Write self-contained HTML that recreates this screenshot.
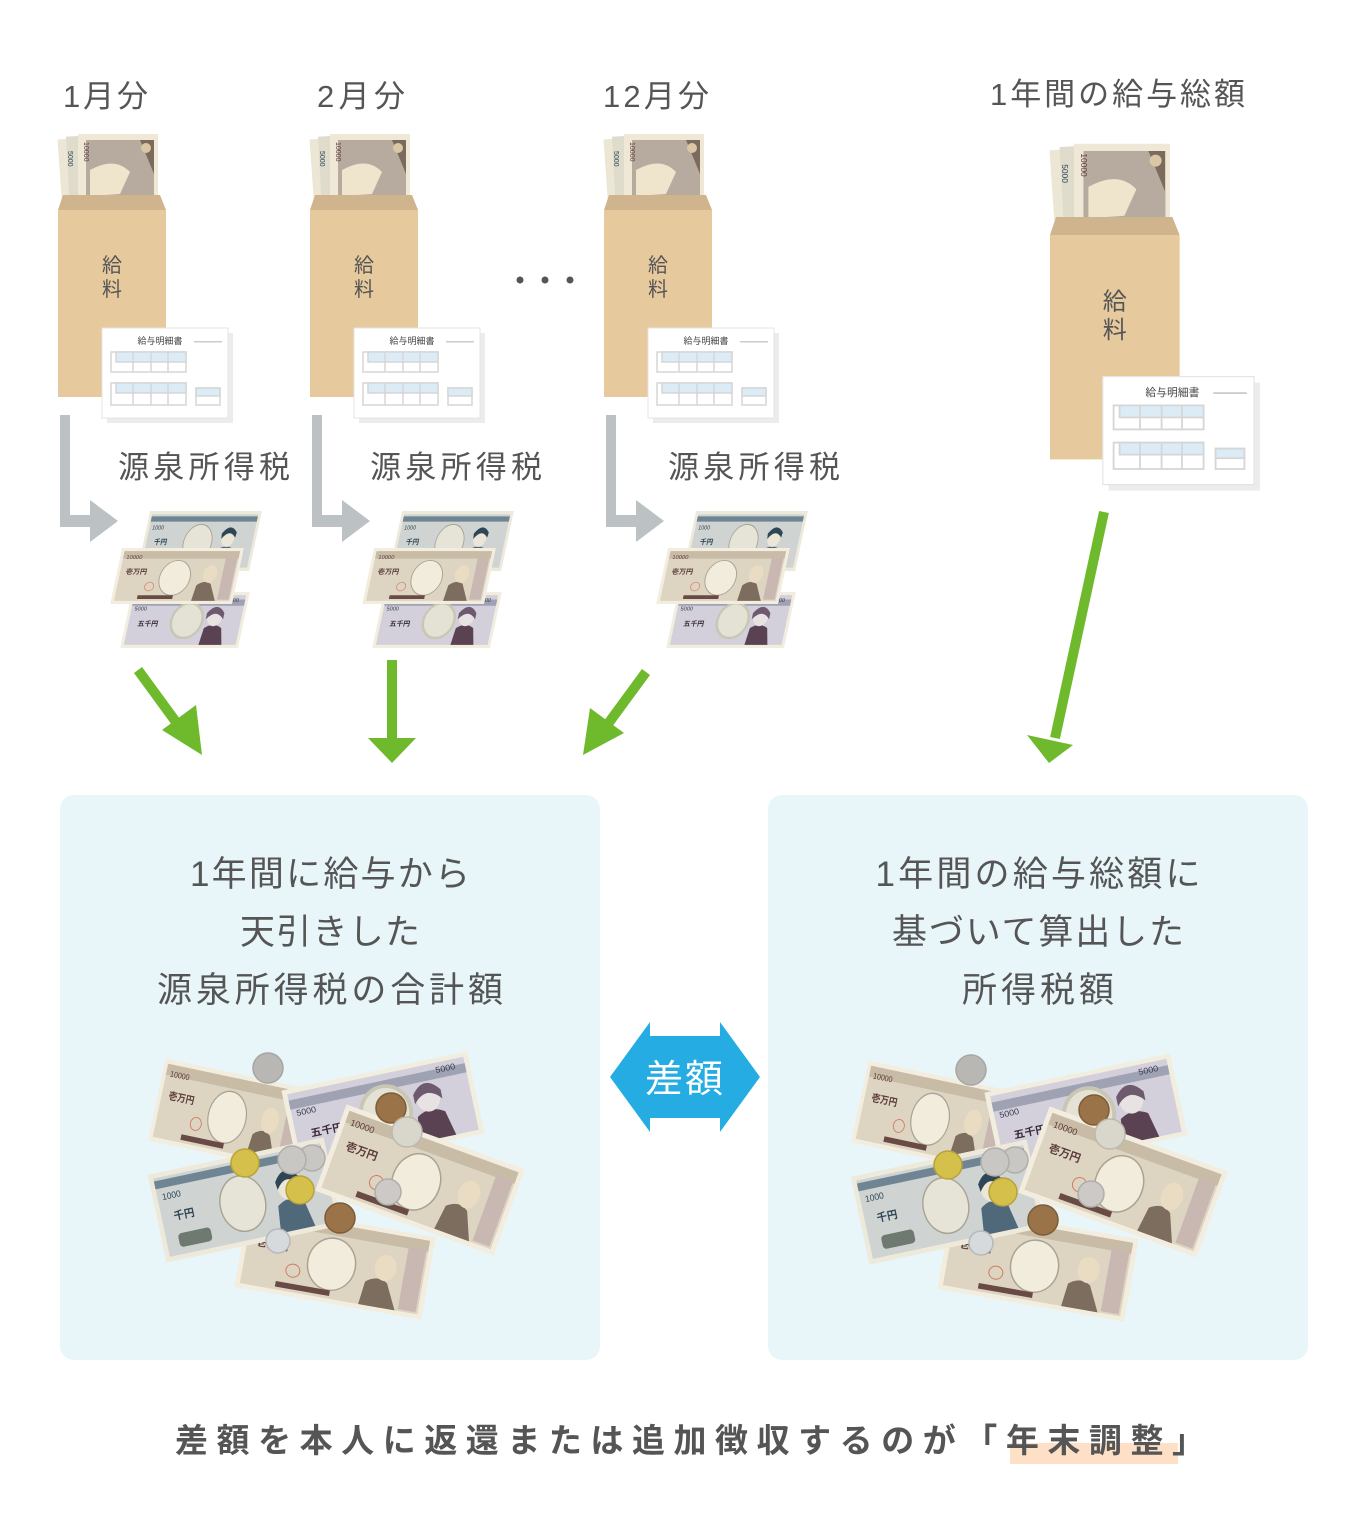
<!DOCTYPE html>
<html><head><meta charset="utf-8"><style>
html,body{margin:0;padding:0;background:#fff;}
svg{display:block;}
text{font-family:"Liberation Sans","Noto Sans CJK JP",sans-serif;}
</style></head><body>
<svg width="1368" height="1536" viewBox="0 0 1368 1536" xmlns="http://www.w3.org/2000/svg">
<defs>
  <symbol id="n10k" viewBox="0 0 190 90" preserveAspectRatio="none">
    <rect x="0" y="0" width="190" height="90" fill="#f3ede0"/>
    <rect x="5" y="5" width="180" height="80" fill="#ddd5c2"/>
    <rect x="5" y="5" width="180" height="12" fill="#c9bca6"/>
    <ellipse cx="92" cy="48" rx="24" ry="28" fill="#f2ecdc" stroke="#aaa394" stroke-width="1.5"/>
    <path d="M125 85 L128 60 Q140 50 150 58 L162 85 Z" fill="#7d6d5e"/>
    <ellipse cx="146" cy="42" rx="11" ry="14" fill="#eadcc2"/>
    <rect x="165" y="15" width="18" height="68" fill="#c9b8b2"/>
    <text x="10" y="18" font-size="9" fill="#5b3a3a" font-family="Liberation Serif,serif">10000</text>
    <text x="14" y="42" font-size="11" font-weight="bold" fill="#5b3a3a">壱万円</text>
    <circle cx="55" cy="62" r="7" fill="none" stroke="#d07a62" stroke-width="1"/>
    <rect x="40" y="76" width="55" height="6" fill="#6a4a44"/>
  </symbol>
  <symbol id="n5k" viewBox="0 0 190 90" preserveAspectRatio="none">
    <rect x="0" y="0" width="190" height="90" fill="#f2eedf"/>
    <rect x="5" y="5" width="180" height="80" fill="#d3d0dc"/>
    <rect x="5" y="12" width="180" height="10" fill="#9ea2b3"/>
    <ellipse cx="98" cy="46" rx="25" ry="28" fill="#e4e2d4" stroke="#c9c7b4" stroke-width="4"/>
    <path d="M125 85 L128 58 Q142 48 156 58 L162 85 Z" fill="#5a4252"/>
    <ellipse cx="142" cy="40" rx="12" ry="15" fill="#e8e2e2"/>
    <path d="M128 34 Q142 14 156 34 L156 44 Q142 26 128 44 Z" fill="#6e5a6e"/>
    <text x="10" y="30" font-size="9" fill="#3a3a4a" font-family="Liberation Serif,serif">5000</text>
    <text x="155" y="16" font-size="9" fill="#3a3a4a" font-family="Liberation Serif,serif">5000</text>
    <text x="20" y="55" font-size="11" font-weight="bold" fill="#3a2a3a">五千円</text>
  </symbol>
  <symbol id="n1k" viewBox="0 0 190 90" preserveAspectRatio="none">
    <rect x="0" y="0" width="190" height="90" fill="#eeeadb"/>
    <rect x="5" y="5" width="180" height="80" fill="#cfd3d2"/>
    <rect x="5" y="8" width="180" height="8" fill="#6f8594"/>
    <ellipse cx="92" cy="48" rx="24" ry="28" fill="#e6e4d6" stroke="#aaa394" stroke-width="1.5"/>
    <path d="M125 85 L128 58 Q142 48 156 58 L162 85 Z" fill="#50697a"/>
    <ellipse cx="142" cy="40" rx="11" ry="14" fill="#ece6d8"/>
    <path d="M130 34 Q142 16 155 32 L154 40 Q142 26 131 42 Z" fill="#2e4656"/>
    <text x="10" y="28" font-size="9" fill="#2e4656" font-family="Liberation Serif,serif">1000</text>
    <text x="18" y="50" font-size="11" font-weight="bold" fill="#2e4656">千円</text>
    <rect x="18" y="64" width="35" height="14" rx="4" fill="#6e7a70"/>
  </symbol>
  <symbol id="env" overflow="visible">
    <g transform="translate(2,-76)">
      <rect x="0" y="4" width="40" height="72" fill="#ece6d4" transform="rotate(-4 20 40)"/>
      <rect x="8" y="2" width="40" height="72" fill="#e0dccc" transform="rotate(-3 20 40)"/>
      <rect x="18" y="0" width="80" height="72" fill="#efe8d6"/>
      <rect x="26" y="6" width="68" height="64" fill="#7c6a5c"/>
      <path d="M26 6 L80 6 L94 40 L94 70 L26 70 Z" fill="#b7aba0"/>
      <path d="M30 36 Q55 22 70 38 L60 60 L30 62 Z" fill="#efe4cc"/>
      <text x="5" y="20" font-size="7" fill="#2e4656" transform="rotate(90 8 20)">5000</text>
      <text x="18" y="10" font-size="7" fill="#5b3a3a" transform="rotate(90 22 12)">10000</text>
      <circle cx="86" cy="14" r="5" fill="#d9c7a6"/>
    </g>
    <path d="M5 -15 L102 -15 L108 0 L0 0 Z" fill="#cfb48d"/>
    <rect x="0" y="0" width="108" height="187" fill="#e6c99c"/>
    <text x="54" y="62" font-size="20" fill="#555" text-anchor="middle">給</text>
    <text x="54" y="86" font-size="20" fill="#555" text-anchor="middle">料</text>
    <rect x="49" y="123" width="126" height="90" fill="#ececec"/>
    <rect x="44" y="118" width="126" height="90" fill="#fff" stroke="#e4e4e4"/>
    <text x="102" y="134" font-size="9" fill="#444" text-anchor="middle">給与明細書</text>
    <rect x="136" y="131" width="28" height="1.5" fill="#ccc"/>
    <g fill="#dcecf7" stroke="#d6d6d6" stroke-width="1.5">
      <rect x="53" y="142" width="75" height="20" fill="#fff"/>
      <rect x="58" y="142" width="70" height="10"/>
      <rect x="53" y="173" width="75" height="22" fill="#fff"/>
      <rect x="58" y="173" width="70" height="10"/>
      <rect x="138" y="178" width="24" height="17" fill="#fff"/>
      <rect x="138" y="178" width="24" height="8"/>
    </g>
    <g stroke="#d6d6d6" stroke-width="1.5">
      <path d="M75 142V162M93 142V162M110 142V162M75 173V195M93 173V195M110 173V195"/>
    </g>
  </symbol>
  <symbol id="tax" overflow="visible">
    <use href="#n1k" x="0" y="0" width="112" height="60" transform="translate(40,1) skewX(-12)"/>
    <use href="#n5k" x="0" y="0" width="118" height="56" transform="translate(22,82) skewX(-12)"/>
    <use href="#n10k" x="0" y="0" width="122" height="56" transform="translate(12,38) skewX(-12)"/>
  </symbol>
  <symbol id="pile" overflow="visible">
    <use href="#n10k" x="-75" y="-42" width="150" height="84" transform="translate(230,1115) rotate(12)"/>
    <use href="#n5k" x="-95" y="-42" width="190" height="84" transform="translate(383,1112) rotate(-12)"/>
    <use href="#n10k" x="-95" y="-42" width="190" height="84" transform="translate(335,1262) rotate(10)"/>
    <use href="#n1k" x="-90" y="-45" width="180" height="90" transform="translate(245,1200) rotate(-12)"/>
    <use href="#n10k" x="-95" y="-46" width="190" height="92" transform="translate(420,1180) rotate(20)"/>
    <g stroke-width="1.5">
      <circle cx="268" cy="1068" r="15" fill="#b9b7b4" stroke="#a8a6a2"/>
      <circle cx="312" cy="1158" r="13" fill="#c9c7c4" stroke="#b0aeaa"/>
      <circle cx="292" cy="1160" r="14" fill="#c9c7c4" stroke="#b0aeaa"/>
      <circle cx="245" cy="1163" r="14" fill="#d4c04a" stroke="#b8a23a"/>
      <circle cx="300" cy="1190" r="14" fill="#d4c04a" stroke="#b8a23a"/>
      <circle cx="391" cy="1108" r="15" fill="#9a7448" stroke="#7e5c36"/>
      <circle cx="407" cy="1132" r="15" fill="#d9d6cc" stroke="#bdb9ae"/>
      <circle cx="388" cy="1192" r="13" fill="#ccc9c6" stroke="#b0aeaa"/>
      <circle cx="340" cy="1218" r="15" fill="#9a7448" stroke="#7e5c36"/>
      <circle cx="278" cy="1241" r="12" fill="#d6dadc" stroke="#b5b9bb"/>
    </g>
  </symbol>
</defs>

<g font-size="31" fill="#555">
  <text x="63" y="107" textLength="85" lengthAdjust="spacing">1月分</text>
  <text x="317" y="107" textLength="88" lengthAdjust="spacing">2月分</text>
  <text x="603" y="107" textLength="106" lengthAdjust="spacing">12月分</text>
  <text x="990" y="105" textLength="255" lengthAdjust="spacing">1年間の給与総額</text>
</g>

<use href="#env" transform="translate(58,210)"/>
<use href="#env" transform="translate(310,210)"/>
<use href="#env" transform="translate(604,210)"/>
<use href="#env" transform="translate(1050,235) scale(1.2)"/>

<g fill="#555"><circle cx="520" cy="280" r="3.5"/><circle cx="545" cy="280" r="3.5"/><circle cx="570" cy="280" r="3.5"/></g>

<g fill="#bcc1c4">
  <path d="M60 415 H70 V515 H90 V500 L118 521 L90 542 V527 H60 Z"/>
  <path d="M312 415 H322 V515 H342 V500 L370 521 L342 542 V527 H312 Z"/>
  <path d="M606 415 H616 V515 H636 V500 L664 521 L636 542 V527 H606 Z"/>
</g>
<g font-size="31" fill="#555">
  <text x="118" y="478" textLength="172" lengthAdjust="spacing">源泉所得税</text>
  <text x="370" y="478" textLength="172" lengthAdjust="spacing">源泉所得税</text>
  <text x="668" y="478" textLength="172" lengthAdjust="spacing">源泉所得税</text>
</g>

<use href="#tax" transform="translate(110,510)"/>
<use href="#tax" transform="translate(362,510)"/>
<use href="#tax" transform="translate(656,510)"/>

<g stroke="#6fba2c" stroke-width="10" fill="none">
  <line x1="138" y1="670" x2="184" y2="733"/>
  <line x1="392" y1="660" x2="392" y2="740"/>
  <line x1="646" y1="672" x2="602" y2="732"/>
  <line x1="1104" y1="512" x2="1055" y2="738"/>
</g>
<g fill="#6fba2c">
  <path d="M202 755 L162 730 L196 705 Z"/>
  <path d="M368 738 L416 738 L392 763 Z"/>
  <path d="M583 755 L590 708 L624 733 Z"/>
  <path d="M1049 763 L1027 735 L1073 745 Z"/>
</g>

<rect x="60" y="795" width="540" height="565" rx="14" fill="#e8f6fa"/>
<rect x="768" y="795" width="540" height="565" rx="14" fill="#e8f6fa"/>
<g font-size="35" fill="#555" text-anchor="middle">
  <text x="330" y="886" textLength="280" lengthAdjust="spacing">1年間に給与から</text>
  <text x="330" y="944" textLength="180" lengthAdjust="spacing">天引きした</text>
  <text x="330" y="1002" textLength="346" lengthAdjust="spacing">源泉所得税の合計額</text>
  <text x="1038" y="886" textLength="325" lengthAdjust="spacing">1年間の給与総額に</text>
  <text x="1038" y="944" textLength="292" lengthAdjust="spacing">基づいて算出した</text>
  <text x="1038" y="1002" textLength="152" lengthAdjust="spacing">所得税額</text>
</g>

<use href="#pile"/>
<use href="#pile" transform="translate(703,2)"/>

<path d="M610 1077 L650 1022 V1036 H720 V1022 L760 1077 L720 1132 V1118 H650 V1132 Z" fill="#25ade3"/>
<text x="685" y="1092" font-size="38" fill="#fff" text-anchor="middle" letter-spacing="2">差額</text>

<rect x="1010" y="1443" width="168" height="21" fill="#fde0c6"/>
<text x="175" y="1452" font-size="33" font-weight="bold" fill="#555" textLength="1030" lengthAdjust="spacing">差額を本人に返還または追加徴収するのが「年末調整」</text>
</svg>
</body></html>
